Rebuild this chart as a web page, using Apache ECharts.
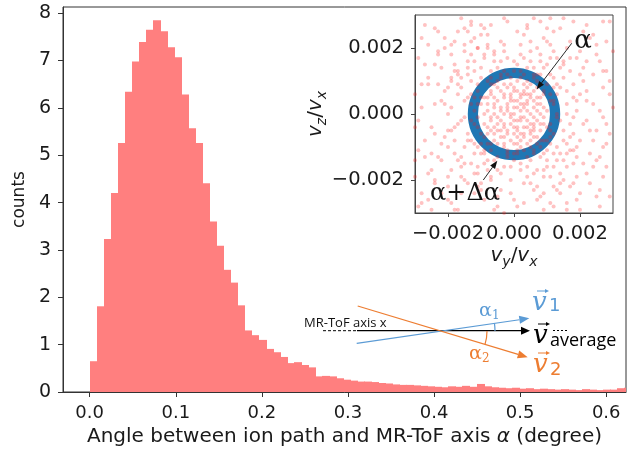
<!DOCTYPE html>
<html><head><meta charset="utf-8">
<script src="https://cdn.jsdelivr.net/npm/echarts@6/dist/echarts.min.js"></script>
<style>html,body{margin:0;padding:0;background:#fff}#c{width:638px;height:452px}</style>
</head><body><div id="c"></div>
<script>
// ---------- data ----------
const binStart = 0;
const binWidth = 0.00817;
const counts = [0.65,1.81,3.23,4.20,5.26,6.34,6.98,7.39,7.65,7.85,7.62,7.28,7.07,6.28,5.57,5.26,4.41,3.60,3.09,2.58,2.31,1.83,1.30,1.20,1.10,0.91,0.84,0.74,0.61,0.63,0.57,0.52,0.33,0.34,0.33,0.29,0.26,0.24,0.22,0.22,0.21,0.19,0.18,0.16,0.15,0.15,0.14,0.13,0.12,0.11,0.10,0.12,0.11,0.13,0.11,0.17,0.12,0.10,0.09,0.08,0.09,0.07,0.08,0.06,0.07,0.06,0.05,0.06,0.05,0.04,0.06,0.05,0.04,0.05,0.05,0.08,0.09];
const xTicks = [0.0,0.1,0.2,0.3,0.4,0.5,0.6];
const yTicks = [0,1,2,3,4,5,6,7,8];
const insetTicks = [-0.002,0,0.002];
const ringInner = 0.00109;
const ringOuter = 0.00140;
// inset point cloud, in units of 1e-4 (v_y/v_x, v_z/v_x)
const cloudE4 = [
[1,2],[-3,5],[4,-2],[-6,-4],[7,3],[2,-8],[-1,-1],[5,6],[-8,1],[3,9],[-4,-7],[8,-5],[0,4],[-2,8],[6,-1],[-7,6],[1,-5],[9,2],[-5,-1],[4,4],[-3,-3],[2,1],[-9,-3],[6,7],[0,-9],[-1,6],[3,-4],[-6,3],[7,-7],[5,0],[-4,2],[1,7],[-2,-6],[8,5],[-8,-6],[3,3],[-5,8],[0,0],[4,-9],[-7,-2],[2,5],[6,-4],[-1,-8],[-3,0],[9,-1],[5,9],[-6,-8],[1,-2],[-9,5],[7,1],[-2,3],[3,-7],[0,8],[-5,-5],[6,4],[-4,7],[8,-8],[2,-1],[-7,9],[4,1],[-1,4],[5,-6],[-8,-9],[0,-4],[3,6],[-6,0],[7,8],[1,-9],[-3,-9],[9,6],
[12,3],[-14,5],[11,-9],[-10,-12],[15,11],[4,14],[-6,16],[13,-14],[-17,-3],[2,-15],[18,-6],[-12,13],[7,-17],[-15,-10],[16,7],[-4,-18],[10,15],[-19,2],[14,-2],[-9,17],[5,19],[-13,-15],[17,-11],[-2,12],[11,12],[-16,8],[8,-13],[-11,-4],[19,1],[1,-12],[-8,-14],[13,17],[-18,-8],[6,11],[-14,14],[16,-16],[-5,-13],[12,-6],[-11,9],[3,17],[-17,12],[9,-19],[-7,11],[18,9],[-12,-18],[14,14],[-20,-5],[0,16],[10,-11],[-15,-1],[17,-3],[-3,-16],[11,6],[-9,-11],[4,-19],[-13,3],[15,-8],[-6,19],[8,16],[-16,-13],[19,-13],[-1,-20],[12,19],[-19,10],[6,-11],[-10,5],[14,-18],[-8,20],[2,13],[-14,-6],[16,3],[-11,-16],[10,-16],[-5,14],[18,-1],[-18,15],[7,12],[-12,-9],[13,9],[-3,19],[11,-3],[-17,6],[5,-14],[-7,-19],[20,6],[-13,18],[9,-8],[-16,-16],[15,16],[-2,-11],
[22,4],[-24,-6],[25,18],[-21,20],[3,24],[-5,-25],[27,-10],[-28,9],[14,26],[-16,-24],[23,-21],[-26,-18],[8,28],[-10,27],[28,22],[-23,25],[19,-26],[-3,29],[26,1],[-29,-2],[11,-27],[-19,-27],[24,12],[-22,14],[6,-23],[-12,23],[29,-25],[-27,27],[17,22],[-20,-22],[21,-15],[-25,-12],[1,-28],[-8,24],[25,-5],[-24,3],[13,-23],[-15,21],[28,13],[-29,17],[4,26],[-6,-29],[22,27],[-18,-29],[27,-19],[-26,-26],[10,22],[-11,-22],[20,-29],[-22,-14],[29,6],[-27,-8],[15,29],[-13,28],[23,-12],[-21,7],[7,-26],[-4,22],[26,-28],[-28,23],[18,-21],[-17,25],[24,24],[-24,-20],[9,-29],[-9,-26],[21,10],[-20,0],[2,21],[-1,-24],[28,-3],[-30,-14],[12,25],[-14,-21],[25,-14],[-23,18],[16,-29],[-16,29],[29,28],[-29,-28],[5,-21],[-7,27],[22,-2],[-26,11],[19,17],[-19,-17],[27,8],[-25,-29],[11,29],[-11,20],
[2,3],[-4,1],[6,-3],[-2,-5],[0,7],[5,5],[-7,-1],[3,-6],[-5,4],[8,0],[-1,-3],[4,8],[-9,-7],[1,10],[-6,9],[10,-4],[-3,-10],[7,-9],[-10,3],[2,-2],[-8,-4],[9,7],[-2,1],[5,-10],[-4,-2],[0,2],[6,2],[-7,7],[3,-1],[-1,9],[11,-7],[-11,-1],[4,-4],[-5,-9],[8,9],[-3,6],[1,-7],[-9,0],[7,5],[-6,-6],[2,11],[10,1],[-2,-12],[5,-8],[-8,10],[0,-6],[3,2],[-10,-9],[9,-3],[-4,11],[6,-12],[-12,5],[1,4],[-3,-4],[12,4],[-7,-11],[4,10],[-11,7],[8,-10],[-1,0],
[13,0],[-13,-2],[0,-14],[2,18],[15,-5],[-15,4],[9,14],[-9,-15],[17,13],[-18,-12],[12,-16],[-12,16],[20,-8],[-20,8],[6,-18],[-6,18],[16,-12],[-16,11],[11,17],[-11,-18],[19,4],[-19,-5],[4,-16],[-4,16],[14,8],[-14,-8],[7,20],[-7,-20],[18,-15],[-18,13],[10,-14],[-10,14],[21,-3],[-21,3],[3,-21],[-3,21],[15,15],[-15,-15],[13,-10],[-13,10],[8,18],[-8,-17],[17,-7],[-17,9],[1,15],[-1,-16],[20,12],[-20,-10],[5,16],[-5,-17],[16,0],[-16,-2],[12,11],[-12,-12],[9,-17],[-9,18],[19,-10],[-19,11],[2,-17],[-2,17],[14,-12],[-14,12],[11,-19],[-11,20],[18,5],[-18,-4],[6,14],[-6,-14],[15,-20],[-15,19],
[24,-8],[-23,9],[8,-25],[-9,26],[26,16],[-25,-17],[16,-27],[-15,26],[23,23],[-22,-24],[28,-16],[-27,15],[3,-27],[-2,28],[27,-1],[-28,2],[20,-24],[-21,23],[12,-28],[-13,27],[25,21],[-24,-21],[29,10],[-29,-11],[18,28],[-17,-29],[22,-18],[-23,19],[6,29],[-5,-28],[26,-23],[-26,21],[14,-24],[-14,25],[29,-6],[-30,6],[21,25],[-20,-26],[10,26],[-10,-23],[24,3],[-25,-4],[30,19],[-30,-19],[17,-22],[-18,22],[27,28],[-28,-27],[1,25],[0,-26],
[3,-11],[-12,-3],[10,9],[-7,13],[13,-1],[-2,-13],[6,12],[-11,-10],[12,-12],[0,13],[-13,6],[8,-3],[-6,2],[4,-13],[11,4],[-10,-6],[1,-11],[-4,12],[9,-12],[-12,1],[7,10],[-9,-12],[13,6],[-1,11],[5,-5],[-8,5],[2,-10],[-5,10],[10,-8],[-13,-8],[6,-7],[-3,13],[12,8],[-10,11],[0,-12],[8,12],[-7,-9],[3,12],[-11,3],[11,-5],
[2,6],[-3,-7],[7,-2],[-6,5],[1,-4],[4,3],[-2,2],[5,-3],[-4,-5],[3,7],[-7,-5],[6,-5],[-1,5],[0,-2],[8,3],[-5,-3],[2,-6],[-8,3],[4,6],[-3,9],
[16,-9],[-17,-14],[21,14],[-22,-9],[9,23],[-10,-21],[24,-16],[-24,15],[14,-21],[-19,21],[22,7],[-21,-7],[5,22],[-4,-23],[27,13],[-27,-13],[12,-22],[-13,22],[19,-19],[-19,18],[16,20],[-15,-20],[23,-5],[-22,4],[7,-22],[-8,21],[28,-9],[-28,-24],[20,19],[-20,-19],[15,-14],[-14,16],[26,-13],[-26,9],[11,21],[-12,-24],[18,-11],[-17,13],[30,2],[-30,-4],[4,27],[-3,-30],[25,-25],[-24,26],[9,-24],[-10,24],[22,16],[-23,-13],[17,17],[-16,-19]
];
const xMin = -0.031, xMax = 0.623, yMax = 8.13, insetLim = 0.003;

// ---------- build ----------
const histData = counts.map((c, i) => [binStart + i * binWidth, binStart + (i + 1) * binWidth, c]);
const cloud = cloudE4.map(p => [p[0] * 1e-4, p[1] * 1e-4]);
const fmtInset = v => (v < 0 ? '\u2212' : '') + Math.abs(v).toFixed(3);
const TXT = '#1a1a1a';
const F = 'DejaVu Sans';
const BAR = '#ff7f7f';

const ann = [];
function addLine(x1, y1, x2, y2, color, lw, dash) {
  ann.push({type: 'line', z: 100, shape: {x1, y1, x2, y2}, style: {stroke: color, lineWidth: lw, lineDash: dash || null}});
}
function addArrow(x1, y1, x2, y2, color, lw, hl, hw) {
  const a = Math.atan2(y2 - y1, x2 - x1);
  const bx = x2 - hl * Math.cos(a), by = y2 - hl * Math.sin(a);
  const px = -Math.sin(a) * hw / 2, py = Math.cos(a) * hw / 2;
  addLine(x1, y1, bx, by, color, lw);
  ann.push({type: 'polygon', z: 100, shape: {points: [[x2, y2], [bx + px, by + py], [bx - px, by - py]]}, style: {fill: color}});
}
function addText(t, x, y, font, color, align, va, rot, rich) {
  const st = {text: t, x: 0, y: 0, font: font, fill: color, align: align || 'left', verticalAlign: va || 'middle'};
  if (rich) st.rich = rich;
  ann.push({type: 'text', z: 100, x: x, y: y, rotation: rot || 0, style: st});
}
function addArc(cx, cy, r, a0, a1, color) {
  ann.push({type: 'arc', z: 100, shape: {cx, cy, r, startAngle: a0, endAngle: a1, clockwise: true}, style: {stroke: color, lineWidth: 1.2, fill: null}});
}
const BLUE = '#5b9bd5', ORANGE = '#ed7d31';

// vector diagram (lower right)
addLine(323, 330.7, 357, 330.7, '#000', 1, [3, 2]);
addArrow(357, 330.7, 530, 330.7, '#000', 1.2, 9, 8);
addLine(553, 330.5, 567, 330.5, '#000', 1, [2, 2]);
addArrow(356.7, 343.3, 529.3, 318.3, BLUE, 1.2, 10, 8);
addArrow(357.7, 306, 527.7, 357.3, ORANGE, 1.2, 10, 8);
addArc(442, 331, 53, -0.145, 0, BLUE);
addArc(442, 331, 45, 0, 0.295, ORANGE);
addText('MR-ToF axis x', 304, 323, '13px "Open Sans"', '#111', 'left', 'middle');
addText('\u03b1', 479, 311, '19px "DejaVu Serif"', BLUE);
addText('1', 492, 316, '12px "DejaVu Serif"', BLUE);
addText('\u03b1', 469, 354, '19px "DejaVu Serif"', ORANGE);
addText('2', 482, 359, '12px "DejaVu Serif"', ORANGE);
// v1
addText('v', 532, 303, 'italic 26px "DejaVu Serif"', BLUE);
addText('1', 549, 306, '18px "DejaVu Sans"', BLUE);
addArrow(537, 291, 549, 291, BLUE, 1, 4, 4);
// v average
addText('v', 533, 336, 'italic 26px "DejaVu Serif"', '#000');
addArrow(538, 324, 550, 324, '#000', 1, 4, 4);
addText('average', 550, 341, '18px "Open Sans"', '#000');
// v2
addText('v', 533, 365, 'italic 26px "DejaVu Serif"', ORANGE);
addText('2', 550, 370, '18px "DejaVu Sans"', ORANGE);
addArrow(538, 353, 550, 353, ORANGE, 1, 4, 4);

// inset annotations
addText('\u03b1', 583, 41, '26px "DejaVu Serif"', '#111', 'center', 'middle');
addArrow(571.7, 43.3, 536.7, 89.3, '#111', 0.9, 8, 6);
addText('\u03b1+\u0394\u03b1', 465, 194, '24px "DejaVu Serif"', '#111', 'center', 'middle');
addArrow(483.3, 180, 497.3, 160.7, '#111', 0.9, 8, 6);

// inset axis labels
const labRich = {
  i: {fontFamily: F, fontStyle: 'italic', fontSize: 20, lineHeight: 26, verticalAlign: 'middle', color: TXT},
  n: {fontFamily: F, fontSize: 20, lineHeight: 26, verticalAlign: 'middle', color: TXT},
  s: {fontFamily: F, fontStyle: 'italic', fontSize: 14, lineHeight: 14, verticalAlign: 'bottom', color: TXT}
};
addText('{i|v}{s|y}{n|/}{i|v}{s|x}', 514, 256, '20px "DejaVu Sans"', TXT, 'center', 'middle', 0, labRich);
addText('{i|v}{s|z}{n|/}{i|v}{s|x}', 316, 114, '20px "DejaVu Sans"', TXT, 'center', 'middle', Math.PI / 2, labRich);

const chart = echarts.init(document.getElementById('c'), null, {renderer: 'canvas'});
chart.setOption({
  animation: false,
  backgroundColor: '#fff',
  grid: [
    {left: 63, right: 12, top: 7, bottom: 60, show: true, borderColor: '#333', borderWidth: 1, backgroundColor: 'transparent'},
    {left: 415, top: 15, width: 198, height: 198, show: true, borderColor: '#444', borderWidth: 1, backgroundColor: '#fff'}
  ],
  xAxis: [
    {type: 'value', gridIndex: 0, min: xMin, max: xMax,
     axisLine: {show: true, onZero: false, lineStyle: {color: '#333'}},
     splitLine: {show: false},
     axisTick: {show: true, customValues: xTicks, length: 5, lineStyle: {color: '#333'}},
     axisLabel: {customValues: xTicks, formatter: v => v.toFixed(1), fontSize: 18, fontFamily: F, color: TXT, margin: 12},
     name: 'Angle between ion path and MR-ToF axis {a|\u03b1} (degree)', nameLocation: 'middle', nameGap: 31,
     nameTextStyle: {fontSize: 20, fontFamily: F, color: TXT, rich: {a: {fontSize: 20, fontFamily: F, fontStyle: 'italic', color: TXT}}}},
    {type: 'value', gridIndex: 1, min: -insetLim, max: insetLim,
     axisLine: {show: true, onZero: false, lineStyle: {color: '#444'}},
     splitLine: {show: false},
     axisTick: {show: true, customValues: insetTicks, length: 4, lineStyle: {color: '#444'}},
     axisLabel: {customValues: insetTicks, formatter: fmtInset, fontSize: 19.5, fontFamily: F, color: TXT, margin: 11}}
  ],
  yAxis: [
    {type: 'value', gridIndex: 0, min: 0, max: yMax,
     axisLine: {show: true, onZero: false, lineStyle: {color: '#333'}},
     splitLine: {show: false},
     axisTick: {show: true, customValues: yTicks, length: 5, lineStyle: {color: '#333'}},
     axisLabel: {customValues: yTicks, fontSize: 19, fontFamily: F, color: TXT, margin: 12},
     name: 'counts', nameLocation: 'middle', nameGap: 30, nameRotate: 90,
     nameTextStyle: {fontSize: 17, fontFamily: F, color: TXT}},
    {type: 'value', gridIndex: 1, min: -insetLim, max: insetLim,
     axisLine: {show: true, onZero: false, lineStyle: {color: '#444'}},
     splitLine: {show: false},
     axisTick: {show: true, customValues: insetTicks, length: 4, lineStyle: {color: '#444'}},
     axisLabel: {customValues: insetTicks, formatter: fmtInset, fontSize: 19.5, fontFamily: F, color: TXT, margin: 11}}
  ],
  series: [
    {type: 'custom', xAxisIndex: 0, yAxisIndex: 0, data: histData, z: 2,
     renderItem: (params, api) => {
       const p0 = api.coord([api.value(0), api.value(2)]);
       const p1 = api.coord([api.value(1), 0]);
       const x0 = Math.round(p0[0]), x1 = Math.round(p1[0]) + 1;
       const rect = echarts.graphic.clipRectByRect(
         {x: x0, y: p0[1], width: x1 - x0, height: p1[1] - p0[1]}, params.coordSys);
       return rect && {type: 'rect', shape: rect, style: {fill: BAR, stroke: null}};
     }},
    {type: 'custom', xAxisIndex: 1, yAxisIndex: 1, data: [[0, 0, ringInner, ringOuter]], z: 3,
     renderItem: (params, api) => {
       const c = api.coord([api.value(0), api.value(1)]);
       const rIn = api.size([api.value(2), 0])[0];
       const rOut = api.size([api.value(3), 0])[0];
       return {type: 'circle', shape: {cx: c[0], cy: c[1], r: (rIn + rOut) / 2},
               style: {fill: null, stroke: '#1f77b4', lineWidth: rOut - rIn}};
     }},
    {type: 'scatter', xAxisIndex: 1, yAxisIndex: 1, data: cloud, z: 4, clip: true,
     symbol: 'circle', symbolSize: 4, itemStyle: {color: 'rgba(255,20,20,0.32)'}, silent: true}
  ],
  graphic: ann
});
</script></body></html>
